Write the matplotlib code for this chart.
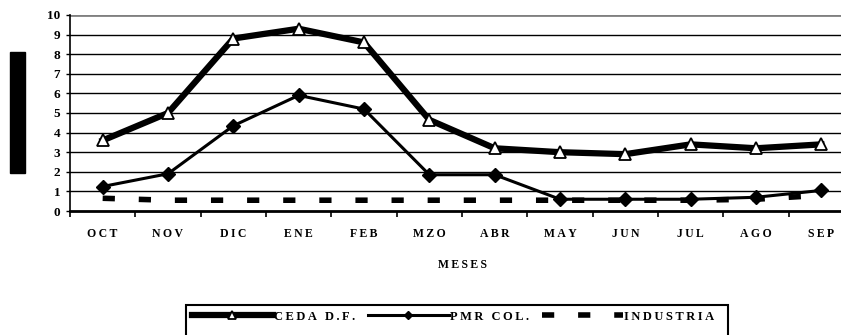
import numpy as np
import matplotlib.pyplot as plt
from matplotlib.patches import Rectangle

meses = ["OCT", "NOV", "DIC", "ENE", "FEB", "MZO", "ABR", "MAY", "JUN", "JUL", "AGO", "SEP"]
ceda = [3.6, 5.0, 8.8, 9.3, 8.6, 4.65, 3.2, 3.0, 2.9, 3.4, 3.2, 3.4]
pmr = [1.25, 1.9, 4.35, 5.9, 5.2, 1.85, 1.85, 0.6, 0.6, 0.6, 0.7, 1.05]
industria = [0.65, 0.55, 0.55, 0.55, 0.55, 0.55, 0.55, 0.55, 0.55, 0.55, 0.6, 0.8]
series_names = ["CEDA D.F.", "PMR COL.", "INDUSTRIA"]

plt.rcParams['font.family'] = ['Liberation Serif', 'DejaVu Serif']
plt.rcParams['font.weight'] = 'bold'


def spaced(s):
    # letter-spaced labels, like the original
    return "\u2009".join(s)


fig = plt.figure(figsize=(8.41, 3.35), dpi=100)
ax = fig.add_axes([70/841, 1-211/335, 784/841, 196/335])

x = np.arange(len(meses))
ax.plot(x, ceda, color='black', lw=4.5, marker='^', ms=8.5, mfc='white',
        mec='black', mew=1.3, label=spaced(series_names[0]), zorder=4)
ax.plot(x, pmr, color='black', lw=2.2, marker='D', ms=7, mfc='black',
        mec='black', label=spaced(series_names[1]), zorder=4)
ax.plot(x, industria, color='black', lw=4, dashes=(2.2, 4.3),
        label=spaced(series_names[2]), zorder=3)

ax.set_xlim(-0.5, len(meses) - 0.5)
ax.set_ylim(0, 10)
yt = list(range(0, 11))
ax.set_yticks(yt)
ax.set_yticklabels([str(v) for v in yt], fontsize=9.5, fontweight='bold')
for v in range(1, 10):
    ax.axhline(v, color='black', lw=1, zorder=1)
ax.axhline(10, color='#808080', lw=2, zorder=1)

ax.set_xticks(x)
ax.set_xticklabels([spaced(m) for m in meses], fontsize=8.5, fontweight='bold')
ax.set_xticks(np.arange(-0.5, len(meses), 1), minor=True)
ax.tick_params(axis='x', which='major', length=0, pad=12)
ax.tick_params(axis='x', which='minor', length=4, width=1.2, direction='out')
ax.tick_params(axis='y', length=3, width=1, pad=4)

for s in ['top', 'right']:
    ax.spines[s].set_visible(False)
ax.spines['left'].set_linewidth(1.2)
ax.spines['bottom'].set_linewidth(2)

ax.set_xlabel(spaced('MESES'), fontsize=8.5, fontweight='bold', labelpad=14)

# black block where the y label was
fig.patches.append(Rectangle((10/841, 1-173/335), 15/841, 121/335,
                             transform=fig.transFigure, color='black'))

leg = ax.legend(loc='upper left', bbox_to_anchor=(186/841, 1-305/335),
                bbox_transform=fig.transFigure, ncol=3, frameon=False,
                prop={'weight': 'bold', 'size': 9}, handlelength=6.5,
                markerscale=0.6, handletextpad=0.1, columnspacing=1.0,
                borderaxespad=0, borderpad=0.45)
# legend box runs off the bottom of the figure
fig.patches.append(Rectangle((186/841, 1-345/335), 542/841, 40/335,
                             transform=fig.transFigure, fill=False,
                             edgecolor='black', lw=1.5))

fig.savefig('out.png', dpi=100)
